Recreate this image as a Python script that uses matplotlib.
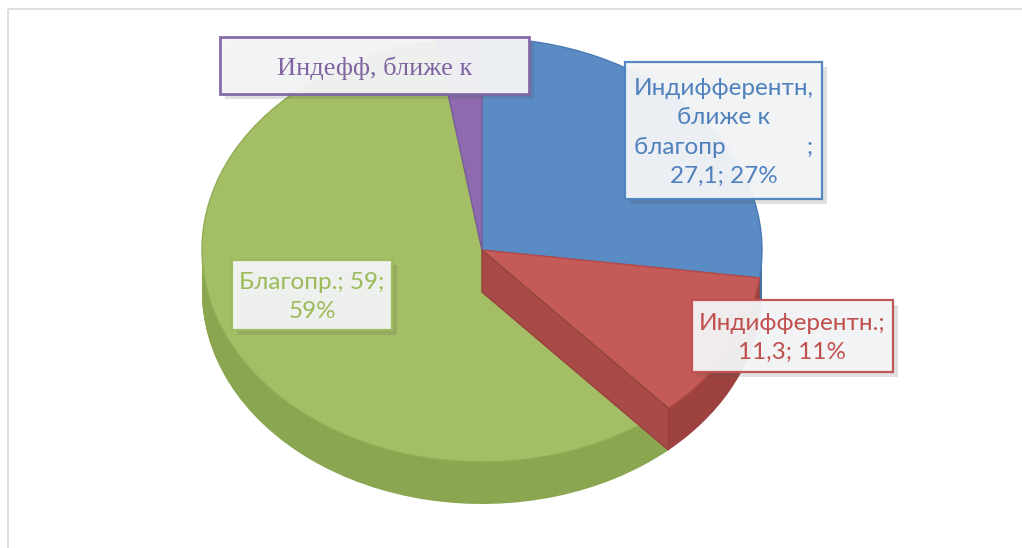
import numpy as np
import matplotlib
matplotlib.use('Agg')
import matplotlib.pyplot as plt
from matplotlib.patches import Rectangle, Polygon
from matplotlib.transforms import Affine2D

# данные диаграммы
names = ['Индифферентн,\nближе к\nблагопр             ;', 'Индифферентн.;', 'Благопр.;', 'Индефф, ближе к']
values = [27.1, 11.3, 59, 2.6]
pct_text = ['27,1; 27%', '11,3; 11%', '59;\n59%', '']
top_colors = ['#5b8bc4', '#c55b58', '#a3be64', '#8d6bae']
side_colors = ['#46709f', '#9e4240', '#8aa650', '#6f5190']
edge_colors = ['#4a7ab5', '#b34a47', '#8fac52', '#7a5c9c']
text_colors = ['#4f81bd', '#c0504d', '#9bbb59', '#8064a2']

W, H = 1022, 548
cx, cy = 482, 250
rx, ry = 280, 212
depth = 42

fig = plt.figure(figsize=(W / 100, H / 100), dpi=100)
ax = fig.add_axes([0, 0, 1, 1])

# боковая стенка (стопка смещённых кругов)
n_layers = 42
for k in range(n_layers + 1):
    off = depth * (1 - k / n_layers)
    ws, _ = ax.pie(values, startangle=90, counterclock=False, colors=side_colors,
                   wedgeprops=dict(linewidth=0))
    tr = Affine2D().scale(rx, -ry).translate(cx, cy + off) + ax.transData
    for w in ws:
        w.set_transform(tr)

# верхняя поверхность
ws, _ = ax.pie(values, startangle=90, counterclock=False, colors=top_colors,
               wedgeprops=dict(linewidth=1.0))
tr = Affine2D().scale(rx, -ry).translate(cx, cy) + ax.transData
for w, ec in zip(ws, edge_colors):
    w.set_transform(tr)
    w.set_edgecolor(ec)

# открытый срез красного сектора
ang = np.deg2rad(90 - 360 * (values[0] + values[1]) / sum(values))
ex, ey = cx + rx * np.cos(ang), cy - ry * np.sin(ang)
ax.add_patch(Polygon([(cx, cy), (ex, ey), (ex, ey + depth), (cx, cy + depth)],
                     closed=True, facecolor='#a84b48', edgecolor='#9a3f3d', lw=1, zorder=3))

ax.set_xlim(0, W)
ax.set_ylim(H, 0)
ax.set_aspect('auto')
ax.axis('off')

# рамка области диаграммы
ax.add_patch(Rectangle((8, 9), W + 20, H, fill=False, edgecolor='#d9d9d9', lw=1.2, zorder=1))

# подписи данных
boxes = [(625, 62, 197, 137), (692, 300, 201, 72), (232, 260, 160, 70), (220, 37, 309, 57)]
labels = [names[0] + '\n' + pct_text[0],
          names[1] + '\n' + pct_text[1],
          names[2] + ' ' + pct_text[2],
          names[3]]
for (bx, by, bw, bh), lab, col, i in zip(boxes, labels, text_colors, range(4)):
    ax.add_patch(Rectangle((bx + 5, by + 5), bw, bh, facecolor='#555555', alpha=0.18,
                           edgecolor='none', zorder=5))
    ax.add_patch(Rectangle((bx, by), bw, bh, facecolor='#f4f5f7', alpha=0.95,
                           edgecolor=col, lw=2 if i == 3 else 1.6, zorder=6))
    if i == 3:
        ax.text(bx + bw / 2, by + bh / 2 + 3, lab, color=col, fontsize=19,
                family=['Liberation Serif', 'DejaVu Serif'], ha='center', va='center', zorder=7)
    else:
        ax.text(bx + bw / 2, by + bh / 2 + 2, lab, color=col, fontsize=17.5,
                family=['Lato', 'DejaVu Sans'], ha='center', va='center',
                linespacing=1.5, zorder=7)

fig.savefig('out.png', dpi=100)
